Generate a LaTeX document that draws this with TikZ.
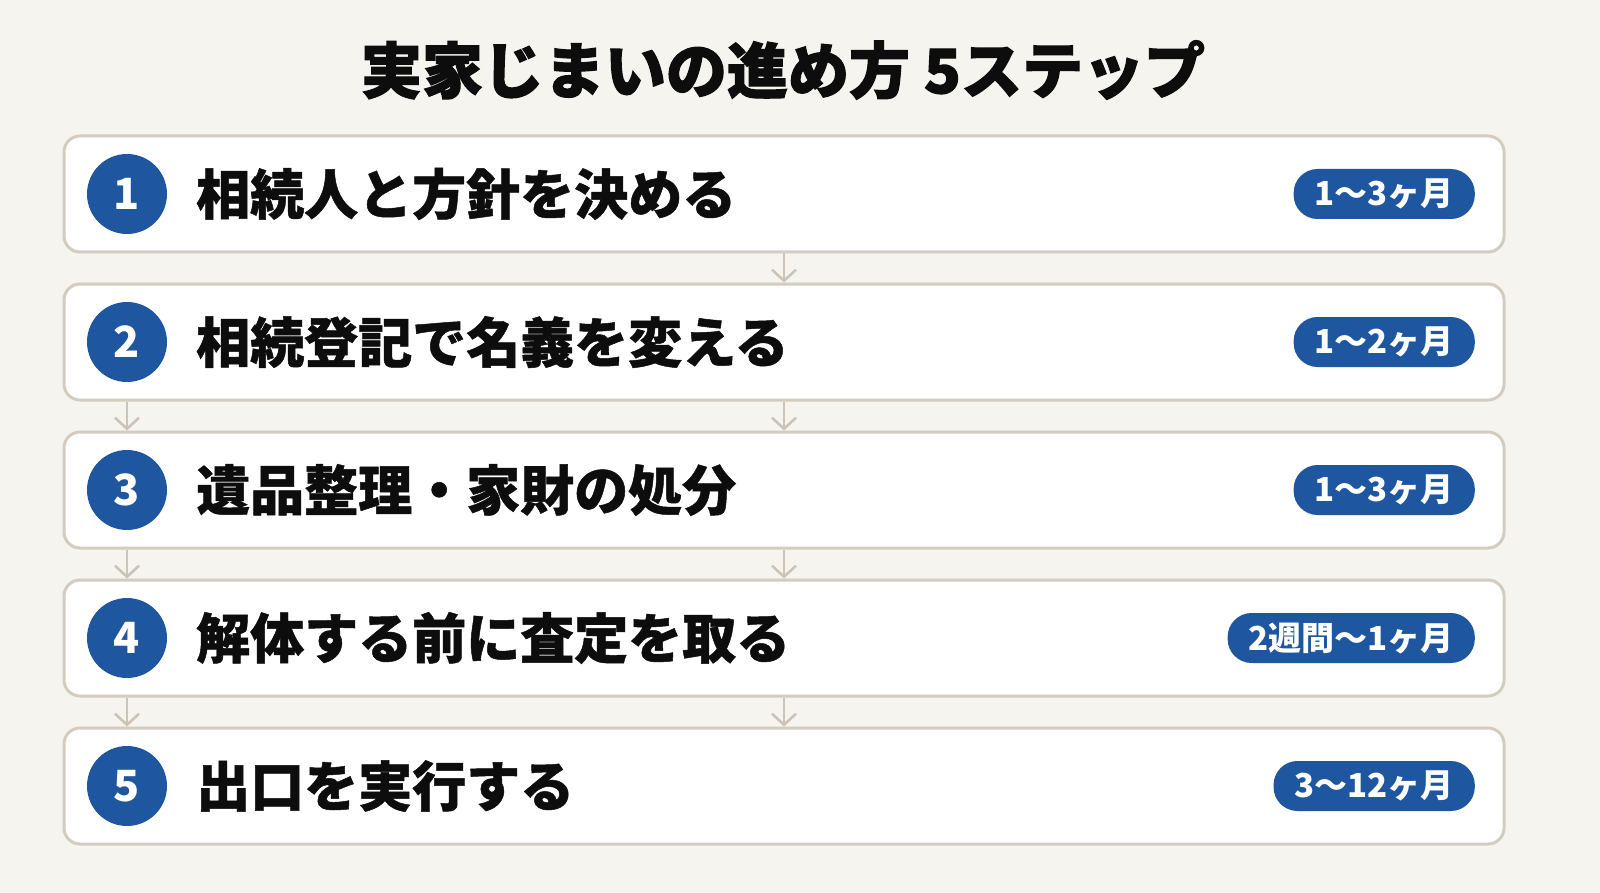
\documentclass[tikz,border=0pt]{standalone}
\usepackage{fontspec}
\setmainfont{Noto Sans CJK JP}
\newfontfamily\heavyA{Noto Sans CJK JP}[BoldFeatures={FakeBold=1.8}]
\newfontfamily\heavyB{Noto Sans CJK JP}[BoldFeatures={FakeBold=0.9}]
\usetikzlibrary{arrows.meta}
\definecolor{bgcol}{HTML}{F5F4EF}
\definecolor{bordercol}{HTML}{D3CCBF}
\definecolor{arrowcol}{HTML}{CBC4B7}
\definecolor{bluecol}{HTML}{1F56A0}
\definecolor{textcol}{HTML}{0D0D0D}
\begin{document}
\begin{tikzpicture}[x=1pt,y=-1pt,
  stepbox/.style={draw=bordercol, line width=3pt, fill=white, rounded corners=16pt, minimum width=1440pt, minimum height=116pt, inner sep=0pt},
  num/.style={circle, fill=bluecol, minimum size=80pt, inner sep=0pt, text=white, font=\bfseries\fontsize{43}{43}\selectfont},
  steptext/.style={anchor=west, inner sep=0pt, text=textcol, font=\heavyB\bfseries\fontsize{54}{54}\selectfont},
  badge/.style={anchor=east, fill=bluecol, rounded corners=24pt, minimum height=50pt, inner xsep=21pt, inner ysep=0pt, text=white, font=\bfseries\fontsize{33}{33}\selectfont},
  conn/.style={draw=arrowcol, line width=2.6pt, -{Straight Barb[length=11pt,width=24pt,line width=2.6pt]}}
]
\fill[bgcol] (0,0) rectangle (1600,893);
\useasboundingbox (0,0) rectangle (1600,893);

\node[text=textcol, font=\heavyA\bfseries\fontsize{61}{61}\selectfont] (title) at (783,70) {実家じまいの進め方 5ステップ};

\foreach \i/\t/\d in {1/相続人と方針を決める/1〜3ヶ月, 2/相続登記で名義を変える/1〜2ヶ月, 3/遺品整理・家財の処分/1〜3ヶ月, 4/解体する前に査定を取る/2週間〜1ヶ月, 5/出口を実行する/3〜12ヶ月}{
  \pgfmathsetmacro{\cy}{194+148*(\i-1)}
  \node[stepbox] (b\i) at (784,\cy) {};
  \node[num] (n\i) at (127,\cy) {\i};
  \node[steptext] (t\i) at (196,\cy) {\t};
  \node[badge] (d\i) at (1475,\cy) {\d};
}

\draw[conn] (b1.south) -- (b2.north);
\draw[conn] (b2.south) -- (b3.north);
\draw[conn] (b3.south) -- (b4.north);
\draw[conn] (b4.south) -- (b5.north);
\draw[conn] (n2 |- b2.south) -- (n2 |- b3.north);
\draw[conn] (n3 |- b3.south) -- (n3 |- b4.north);
\draw[conn] (n4 |- b4.south) -- (n4 |- b5.north);
\end{tikzpicture}
\end{document}
